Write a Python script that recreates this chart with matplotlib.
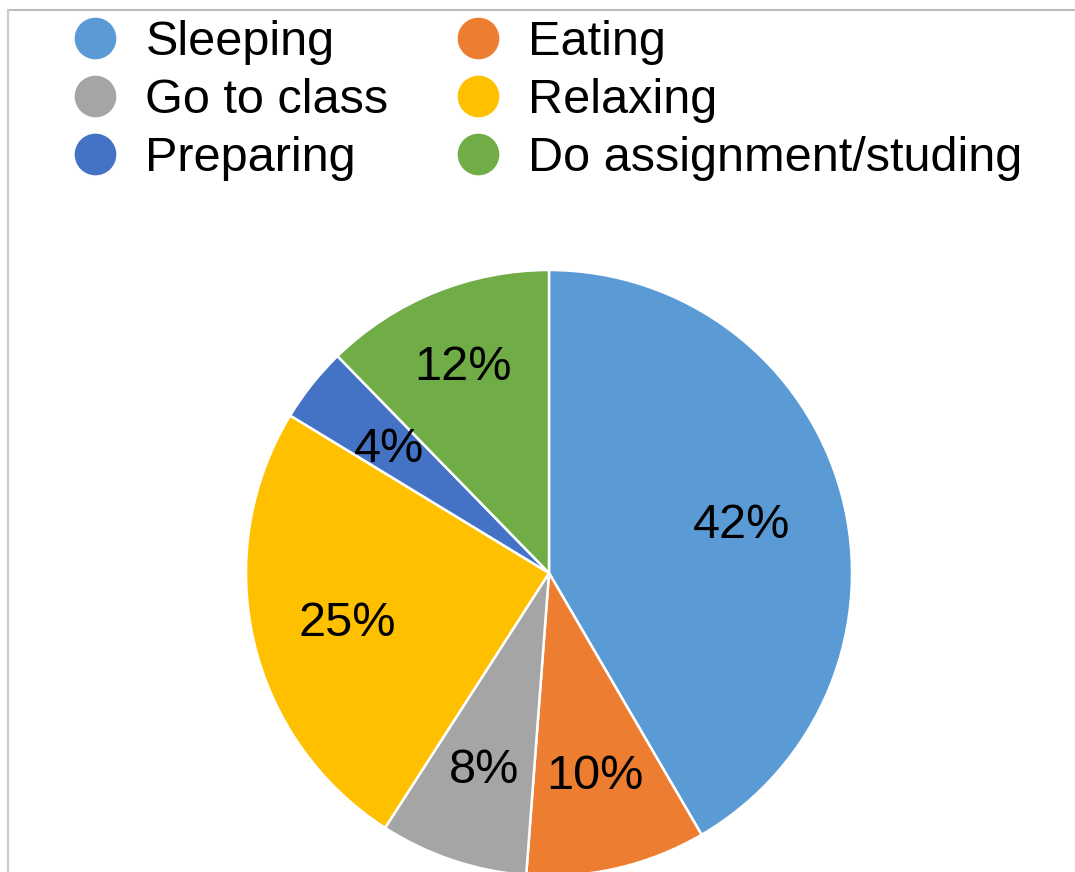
import numpy as np
import matplotlib
matplotlib.use("Agg")
import matplotlib.pyplot as plt
from matplotlib.lines import Line2D
from matplotlib.transforms import offset_copy

plt.rcParams['font.family'] = ['Liberation Sans', 'DejaVu Sans']

categories = ["Sleeping", "Eating", "Go to class", "Relaxing", "Preparing", "Do assignment/studing"]
shares = [41.6, 9.6, 7.9, 24.6, 4.0, 12.3]
colors = ["#5B9BD5", "#ED7D31", "#A5A5A5", "#FFC000", "#4472C4", "#70AD47"]
legend_order = [0, 2, 4, 1, 3, 5]

# radial placement of the percentage labels (fraction of radius), per wedge
label_dist = [0.659, 0.673, 0.673, 0.683, 0.677, 0.749]

W, H = 1075, 872
fig = plt.figure(figsize=(W / 100, H / 100), dpi=100)

cx, cy, r = 549, 573, 303
ax = fig.add_axes([(cx - r) / W, (H - cy - r) / H, 2 * r / W, 2 * r / H])
wedges, texts, autotexts = ax.pie(
    shares, colors=colors, startangle=90, counterclock=False,
    autopct=lambda p: f"{round(p)}%", pctdistance=0.68,
    wedgeprops=dict(edgecolor="white", linewidth=1.8),
    textprops=dict(fontsize=35, color="black"),
)
ax.set_xlim(-1, 1)
ax.set_ylim(-1, 1)
ax.set_aspect("equal")
shifted = offset_copy(ax.transData, fig=fig, x=0, y=-4.5, units="dots")
for w, t, d in zip(wedges, autotexts, label_dist):
    th = np.deg2rad((w.theta1 + w.theta2) / 2)
    t.set_position((d * np.cos(th), d * np.sin(th)))
    t.set_transform(shifted)
    t.set_va("center")
    t.set_ha("center")
for w in wedges:
    w.set_clip_on(False)

# border lines of the chart area
fig.add_artist(Line2D([8 / W, 1], [1 - 10 / H, 1 - 10 / H], transform=fig.transFigure, color="#bbbbbb", lw=1.5))
fig.add_artist(Line2D([8 / W, 8 / W], [0, 1 - 10 / H], transform=fig.transFigure, color="#cccccc", lw=1.5))

handles = [Line2D([], [], marker="o", linestyle="none", markersize=31,
                  markerfacecolor=colors[i], markeredgecolor="white", markeredgewidth=1)
           for i in legend_order]
labels = [categories[i] for i in legend_order]
fig.legend(handles, labels, loc="upper left", bbox_to_anchor=(71 / W, 1 - 20 / H),
           ncol=2, frameon=False, fontsize=35, borderpad=0, borderaxespad=0,
           handlelength=1.0, handletextpad=0.53, labelspacing=0.27, columnspacing=1.34)

fig.savefig("out.png", dpi=100)
